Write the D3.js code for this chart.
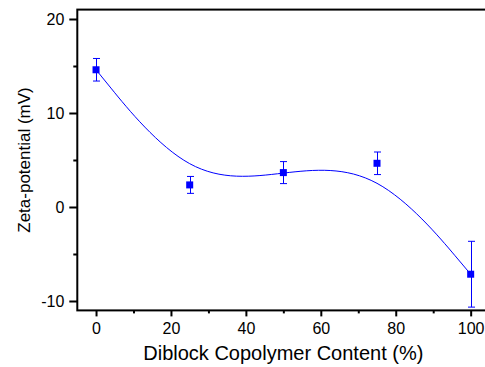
<!DOCTYPE html>
<html>
<head>
<meta charset="utf-8">
<script src="https://cdn.jsdelivr.net/npm/d3@7"></script>
<style>
  html, body { margin: 0; padding: 0; background: #fff; }
  svg { display: block; font-family: Arial, "Liberation Sans", Helvetica, sans-serif; }
</style>
</head>
<body>
<svg id="chart" width="485" height="367"></svg>
<script>
// Diblock copolymer content (%) and measured zeta-potential (mV)
const content = [0, 25, 50, 75, 100];
const zeta = [14.6, 2.35, 3.66, 4.65, -7.15];
const zetaErr = [1.2, 0.9, 1.17, 1.2, 3.5];

const xTicks = [0, 20, 40, 60, 80, 100];
const xMinorTicks = [10, 30, 50, 70, 90];
const yTicks = [-10, 0, 10, 20];
const yMinorTicks = [-5, 5, 15];

const xTitle = "Diblock Copolymer Content (%)";
const yTitle = "Zeta-potential (mV)";

const svg = d3.select("#chart");
const blue = "#0000ff";

const x = d3.scaleLinear().domain([-5, 105]).range([77.3, 489.4]);
const y = d3.scaleLinear().domain([-11, 21]).range([310.4, 9.6]);

// Smoothed connecting curve (B-spline through the data points)
const data = content.map((c, i) => ({ c, z: zeta[i], e: zetaErr[i] }));
svg.append("path")
  .datum(data)
  .attr("fill", "none")
  .attr("stroke", blue)
  .attr("stroke-width", 1)
  .attr("d", d3.line().x(d => x(d.c)).y(d => y(d.z)).curve(d3.curveBasis));

// Error bars
const eb = svg.append("g").attr("stroke", blue).attr("stroke-width", 1);
data.forEach(d => {
  const cx = Math.round(x(d.c)) + 0.5;
  eb.append("line").attr("x1", cx).attr("x2", cx).attr("y1", y(d.z + d.e)).attr("y2", y(d.z - d.e));
  [d.z + d.e, d.z - d.e].forEach(v => {
    eb.append("line").attr("x1", cx - 3.5).attr("x2", cx + 3.5).attr("y1", y(v)).attr("y2", y(v));
  });
});

// Square markers
svg.append("g").selectAll("rect").data(data).join("rect")
  .attr("x", d => x(d.c) - 3.5)
  .attr("y", d => y(d.z) - 3.5)
  .attr("width", 7).attr("height", 7)
  .attr("fill", blue);

// Frame (right edge falls outside the view)
svg.append("rect")
  .attr("x", x.range()[0]).attr("y", y.range()[1])
  .attr("width", x.range()[1] - x.range()[0])
  .attr("height", y.range()[0] - y.range()[1])
  .attr("fill", "none").attr("stroke", "#000").attr("stroke-width", 2);

// Plain hyphen-minus tick labels
const fmt = d => String(d);

// Bottom axis
const xAxis = svg.append("g").attr("transform", `translate(0,${y.range()[0]})`);
xAxis.call(d3.axisBottom(x).tickValues(xTicks).tickSize(6).tickPadding(6).tickFormat(fmt));
const xMinor = svg.append("g").attr("transform", `translate(0,${y.range()[0]})`);
xMinor.call(d3.axisBottom(x).tickValues(xMinorTicks).tickSize(3).tickFormat(""));

// Left axis
const yAxis = svg.append("g").attr("transform", `translate(${x.range()[0]},0)`);
yAxis.call(d3.axisLeft(y).tickValues(yTicks).tickSize(8).tickPadding(5).tickFormat(fmt));
const yMinor = svg.append("g").attr("transform", `translate(${x.range()[0]},0)`);
yMinor.call(d3.axisLeft(y).tickValues(yMinorTicks).tickSize(4).tickFormat(""));

[xAxis, xMinor, yAxis, yMinor].forEach(g => {
  g.select(".domain").remove();
  g.selectAll(".tick line").attr("stroke", "#000").attr("stroke-width", 2);
  g.selectAll(".tick text").attr("fill", "#000").attr("font-size", 16)
    .attr("font-family", "Arial, 'Liberation Sans', sans-serif");
});

// Axis titles
svg.append("text")
  .attr("x", (x.range()[0] + x.range()[1]) / 2)
  .attr("y", 360)
  .attr("text-anchor", "middle")
  .attr("font-size", 20)
  .text(xTitle);

svg.append("text")
  .attr("transform", `translate(30,${(y.range()[0] + y.range()[1]) / 2}) rotate(-90)`)
  .attr("text-anchor", "middle")
  .attr("font-size", 17)
  .text(yTitle);
</script>
</body>
</html>
